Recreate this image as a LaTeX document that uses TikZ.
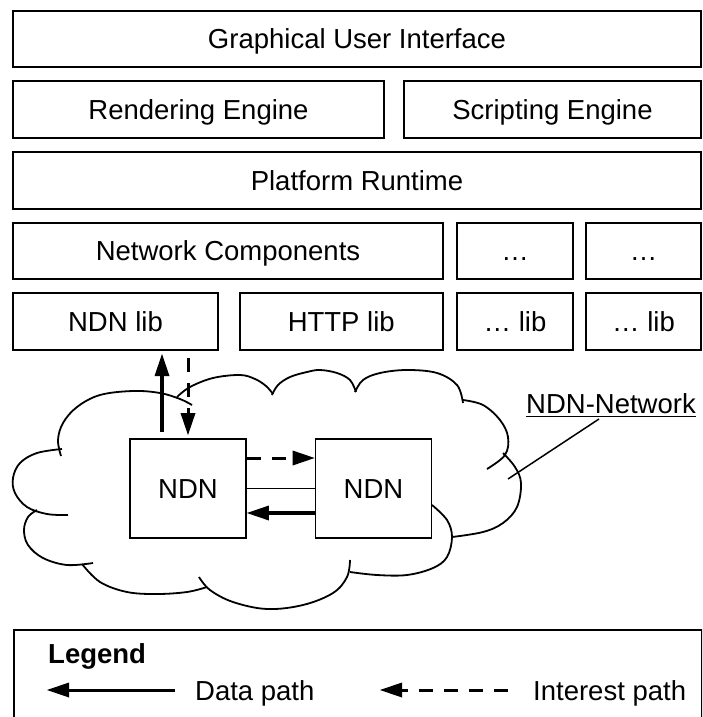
\documentclass[tikz,border=0pt]{standalone}
\usepackage{fontspec}
\setmainfont{Liberation Sans}
\usetikzlibrary{arrows.meta}
\begin{document}
\begin{tikzpicture}[x=1pt,y=-1pt,
  txt/.style={font=\fontsize{27.5}{33}\selectfont, text height=19.7pt, text depth=0pt},
  box/.style={txt, draw, line width=2pt, inner sep=0pt},
  ndnbox/.style={box, fill=white, line width=1.8pt, minimum width=116pt, minimum height=99pt},
  cloudline/.style={line width=1.8pt},
  tip/.style={-{Triangle[length=22pt,width=15pt,line width=0pt]}},
  datapath/.style={line width=3.3pt, tip},
  interestpath/.style={line width=3pt, tip, dash pattern=on 14pt off 11pt},
  lab/.style={txt, inner sep=0pt}]
\useasboundingbox (0,0) rectangle (702,717);
\clip (0,0) rectangle (702,717);

% layers
\node[box, minimum width=688pt, minimum height=56pt] (gui) at (357,39) {Graphical User Interface};
\node[box, minimum width=371pt, minimum height=57pt] (render) at (198.5,109.5) {Rendering Engine};
\node[box, minimum width=297pt, minimum height=57pt] (script) at (552.5,109.5) {Scripting Engine};
\node[box, minimum width=688pt, minimum height=57pt] (platform) at (357,180.5) {Platform Runtime};
\node[box, minimum width=430pt, minimum height=56pt] (netcomp) at (228,251) {Network Components};
\node[box, minimum width=116pt, minimum height=56pt] (dotsA) at (515,251) {…};
\node[box, minimum width=115pt, minimum height=56pt] (dotsB) at (643.5,251) {…};
\node[box, minimum width=205pt, minimum height=57pt] (ndnlib) at (115.5,321.5) {NDN lib};
\node[box, minimum width=203.5pt, minimum height=57pt] (httplib) at (341.25,321.5) {HTTP lib};
\node[box, minimum width=116pt, minimum height=57pt] (libA) at (515,321.5) {… lib};
\node[box, minimum width=115pt, minimum height=57pt] (libB) at (643.5,321.5) {… lib};

% cloud
\draw[cloudline] plot[smooth, tension=0.6] coordinates {(61,456) (58,440) (63,423) (77,407) (100,395) (133,391) (160,393) (180,399) (192,405)};
\draw[cloudline] plot[smooth, tension=0.6] coordinates {(177,397) (190,387) (213,378) (240,375) (255,379) (266,386) (273,394)};
\draw[cloudline] plot[smooth, tension=0.6] coordinates {(272,395) (278,385) (290,377) (307,372) (320,370) (337,373) (350,380) (356,392)};
\draw[cloudline] plot[smooth, tension=0.6] coordinates {(355,392) (363,380) (380,373) (407,370) (437,373) (457,385) (463,403)};
\draw[cloudline] plot[smooth, tension=0.6] coordinates {(463,400) (483,405) (500,420) (508,437) (505,455) (487,469)};
\draw[cloudline] plot[smooth, tension=0.6] coordinates {(503,453) (515,467) (521,483) (517,507) (503,523) (483,532) (452,537)};
\draw[cloudline] plot[smooth, tension=0.6] coordinates {(432,505) (447,520) (452,537) (447,557) (433,568) (407,575) (377,575) (350,572)};
\draw[cloudline] plot[smooth, tension=0.6] coordinates {(350,560) (347,577) (333,593) (303,605) (267,609) (233,602) (210,590) (199,577)};
\draw[cloudline] plot[smooth, tension=0.6] coordinates {(207,587) (187,592) (157,594) (127,592) (100,582) (82,564)};
\draw[cloudline] plot[smooth, tension=0.6] coordinates {(93,563) (67,565) (43,558) (28,545) (24,530) (28,517) (37,510)};
\draw[cloudline] plot[smooth, tension=0.6] coordinates {(68,515) (47,514) (27,507) (15,493) (13,478) (20,463) (37,453) (62,449)};

% NDN nodes
\node[ndnbox] (ndn1) at (188,488.5) {NDN};
\node[ndnbox] (ndn2) at (373.5,488.5) {NDN};

% connectors
\coordinate (upx) at ([xshift=-26pt]ndn1.north);
\draw[datapath, shorten <=6pt, shorten >=3pt] (upx) -- (upx |- ndnlib.south);
\draw[interestpath, shorten <=7pt, shorten >=3pt] (ndn1.north |- ndnlib.south) -- (ndn1.north);
\draw[interestpath] ([yshift=30.5pt]ndn1.east) -- ([yshift=30.5pt]ndn2.west);
\draw[line width=1.5pt] (ndn1.east) -- (ndn2.west);
\draw[datapath] ([yshift=-24.5pt]ndn2.west) -- ([yshift=-24.5pt]ndn1.east);

% network label
\node[font=\fontsize{27.5}{33}\selectfont, inner sep=0pt, anchor=base] (lbl) at (611,413) {NDN-Network};
\draw[line width=1.8pt] ([yshift=-3.5pt]lbl.base west) -- ([yshift=-3.5pt]lbl.base east);
\coordinate (cloudpt) at (508,479);
\draw[line width=1.5pt] ([xshift=-12pt,yshift=-6pt]lbl.base) -- (cloudpt);

% legend
\node[draw, line width=2pt, minimum width=688pt, minimum height=100pt, anchor=north west] (legendbox) at (13,628.5) {};
\node[lab, anchor=west, font=\fontsize{27.5}{33}\selectfont\bfseries] (legtitle) at (48,654) {Legend};
\node[lab, anchor=west] (dp) at (195,690.5) {Data path};
\node[lab, anchor=west] (ip) at (533,690.5) {Interest path};
\coordinate (dpend) at (47,690);
\coordinate (ipend) at (380,690);
\draw[datapath, line width=3pt] ([xshift=-20pt,yshift=0.5pt]dp.west) -- (dpend);
\draw[interestpath] ([xshift=-25pt,yshift=0.5pt]ip.west) -- (ipend);
\end{tikzpicture}
\end{document}
